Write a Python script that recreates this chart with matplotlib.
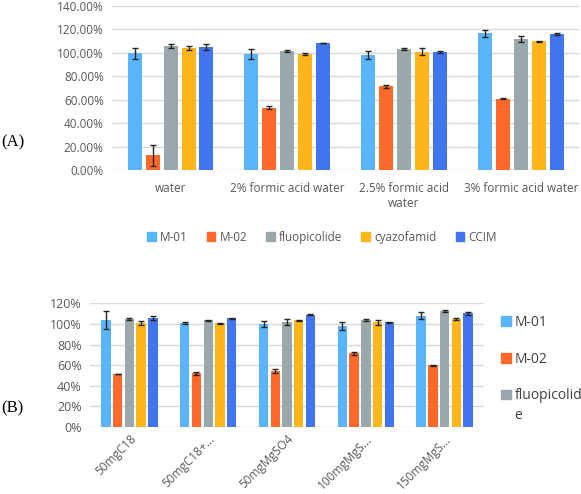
import numpy as np
import matplotlib
matplotlib.use('Agg')
import matplotlib.pyplot as plt
from matplotlib.patches import Patch
from matplotlib.ticker import FuncFormatter

# data (recovery, %)
series = ['M-01', 'M-02', 'fluopicolide', 'cyazofamid', 'CCIM']
colors = ['#5AB4FA', '#FF6A2A', '#9AA8AB', '#FFB61C', '#4274F0']

cats_a = ['water', '2% formic acid water', '2.5% formic acid\nwater', '3% formic acid water']
vals_a = [
    [99.5, 99.0, 97.9, 116.7],    # M-01
    [12.5, 53.2, 71.4, 60.9],     # M-02
    [105.9, 101.3, 103.0, 112.1], # fluopicolide
    [104.1, 99.0, 100.7, 109.8],  # cyazofamid
    [105.0, 108.4, 100.7, 116.1], # CCIM
]
errs_a = [
    [5.0, 4.5, 3.5, 3.0],
    [9.0, 1.0, 1.5, 0.5],
    [1.5, 1.0, 1.0, 2.5],
    [1.5, 1.0, 3.0, 0.5],
    [2.5, 0.3, 0.5, 0.5],
]

cats_b = ['50mgC18', '50mgC18+...', '50mgMgSO4', '100mgMgS...', '150mgMgS...']
vals_b = [
    [103.8, 100.6, 99.9, 98.0, 108.0],
    [51.4, 52.1, 54.0, 71.5, 59.8],
    [104.5, 103.5, 102.2, 103.8, 112.5],
    [100.9, 100.6, 103.5, 101.6, 104.8],
    [105.4, 105.4, 109.0, 101.6, 110.3],
]
errs_b = [
    [8.7, 1.0, 3.0, 3.5, 3.5],
    [0.3, 1.5, 2.0, 1.5, 0.7],
    [1.0, 0.6, 3.0, 1.0, 1.0],
    [2.0, 0.3, 0.5, 2.5, 0.7],
    [2.0, 0.5, 0.2, 0.5, 1.5],
]

txt = '#595959'
grid = '#D9D9D9'
plt.rcParams['font.family'] = ['Open Sans', 'DejaVu Sans']

fig = plt.figure(figsize=(5.81, 4.94), dpi=100)


def draw(ax, cats, vals, errs, step, width):
    x = np.arange(len(cats))
    for i, name in enumerate(series):
        ax.bar(x + (i - 2) * step, vals[i], width, color=colors[i], label=name,
               yerr=errs[i], capsize=2.5,
               error_kw=dict(ecolor='#262626', elinewidth=1, capthick=1), zorder=3)
    ax.set_xlim(-0.5, len(cats) - 0.5)
    for s in ax.spines.values():
        s.set_visible(False)
    ax.yaxis.grid(True, color=grid, linewidth=1, zorder=0)
    ax.set_axisbelow(True)
    ax.tick_params(length=0, colors=txt, labelsize=8.5)
    ax.set_xticks(x)
    return x


ax1 = fig.add_axes([0.193, 0.656, 0.804, 0.332])
draw(ax1, cats_a, vals_a, errs_a, 0.154, 0.12)
ax1.set_ylim(0, 140)
ax1.set_yticks(np.arange(0, 141, 20))
ax1.yaxis.set_major_formatter(FuncFormatter(lambda v, p: '%.2f%%' % v))
ax1.set_xticklabels(cats_a, fontsize=8.5)
ax1.tick_params(axis='x', pad=9)
ax1.tick_params(axis='y', pad=6)

handles = [Patch(color=c) for c in colors]
fig.legend(handles, series, loc='center', bbox_to_anchor=(0.554, 0.52), ncol=5,
           frameon=False, fontsize=8.5, handlelength=0.75, handleheight=0.75,
           handletextpad=0.35, columnspacing=1.6, labelcolor=txt)

ax2 = fig.add_axes([0.155, 0.1356, 0.678, 0.2504])
draw(ax2, cats_b, vals_b, errs_b, 0.149, 0.12)
ax2.set_ylim(0, 120)
ax2.set_yticks(np.arange(0, 121, 20))
ax2.yaxis.set_major_formatter(FuncFormatter(lambda v, p: '%d%%' % v))
ax2.set_xticklabels(cats_b, rotation=45, ha='right', rotation_mode='anchor', fontsize=8.5)
ax2.tick_params(axis='y', labelsize=9, pad=6)
ax2.tick_params(axis='x', pad=4)

leg2 = fig.legend(handles[:3], ['M-01', 'M-02', 'fluopicolid'], loc='upper left',
                  bbox_to_anchor=(0.862, 0.362), frameon=False, fontsize=10,
                  handlelength=0.7, handleheight=0.7, handletextpad=0.3,
                  labelspacing=1.55, borderaxespad=0, borderpad=0, labelcolor='#404040')

# wrapped remainder of the last legend label, placed under its first line
fig.canvas.draw()
bb = leg2.get_texts()[2].get_window_extent()
fig.text(bb.x0 / fig.bbox.width, (bb.y0 - 5) / fig.bbox.height, 'e',
         fontsize=10, color='#404040', va='top', ha='left')

fig.text(0.003, 1 - 142 / 494, '(A)', family='Liberation Serif', fontsize=12, va='center')
fig.text(0.003, 1 - 408 / 494, '(B)', family='Liberation Serif', fontsize=12, va='center')

fig.savefig('out.png', dpi=100)
